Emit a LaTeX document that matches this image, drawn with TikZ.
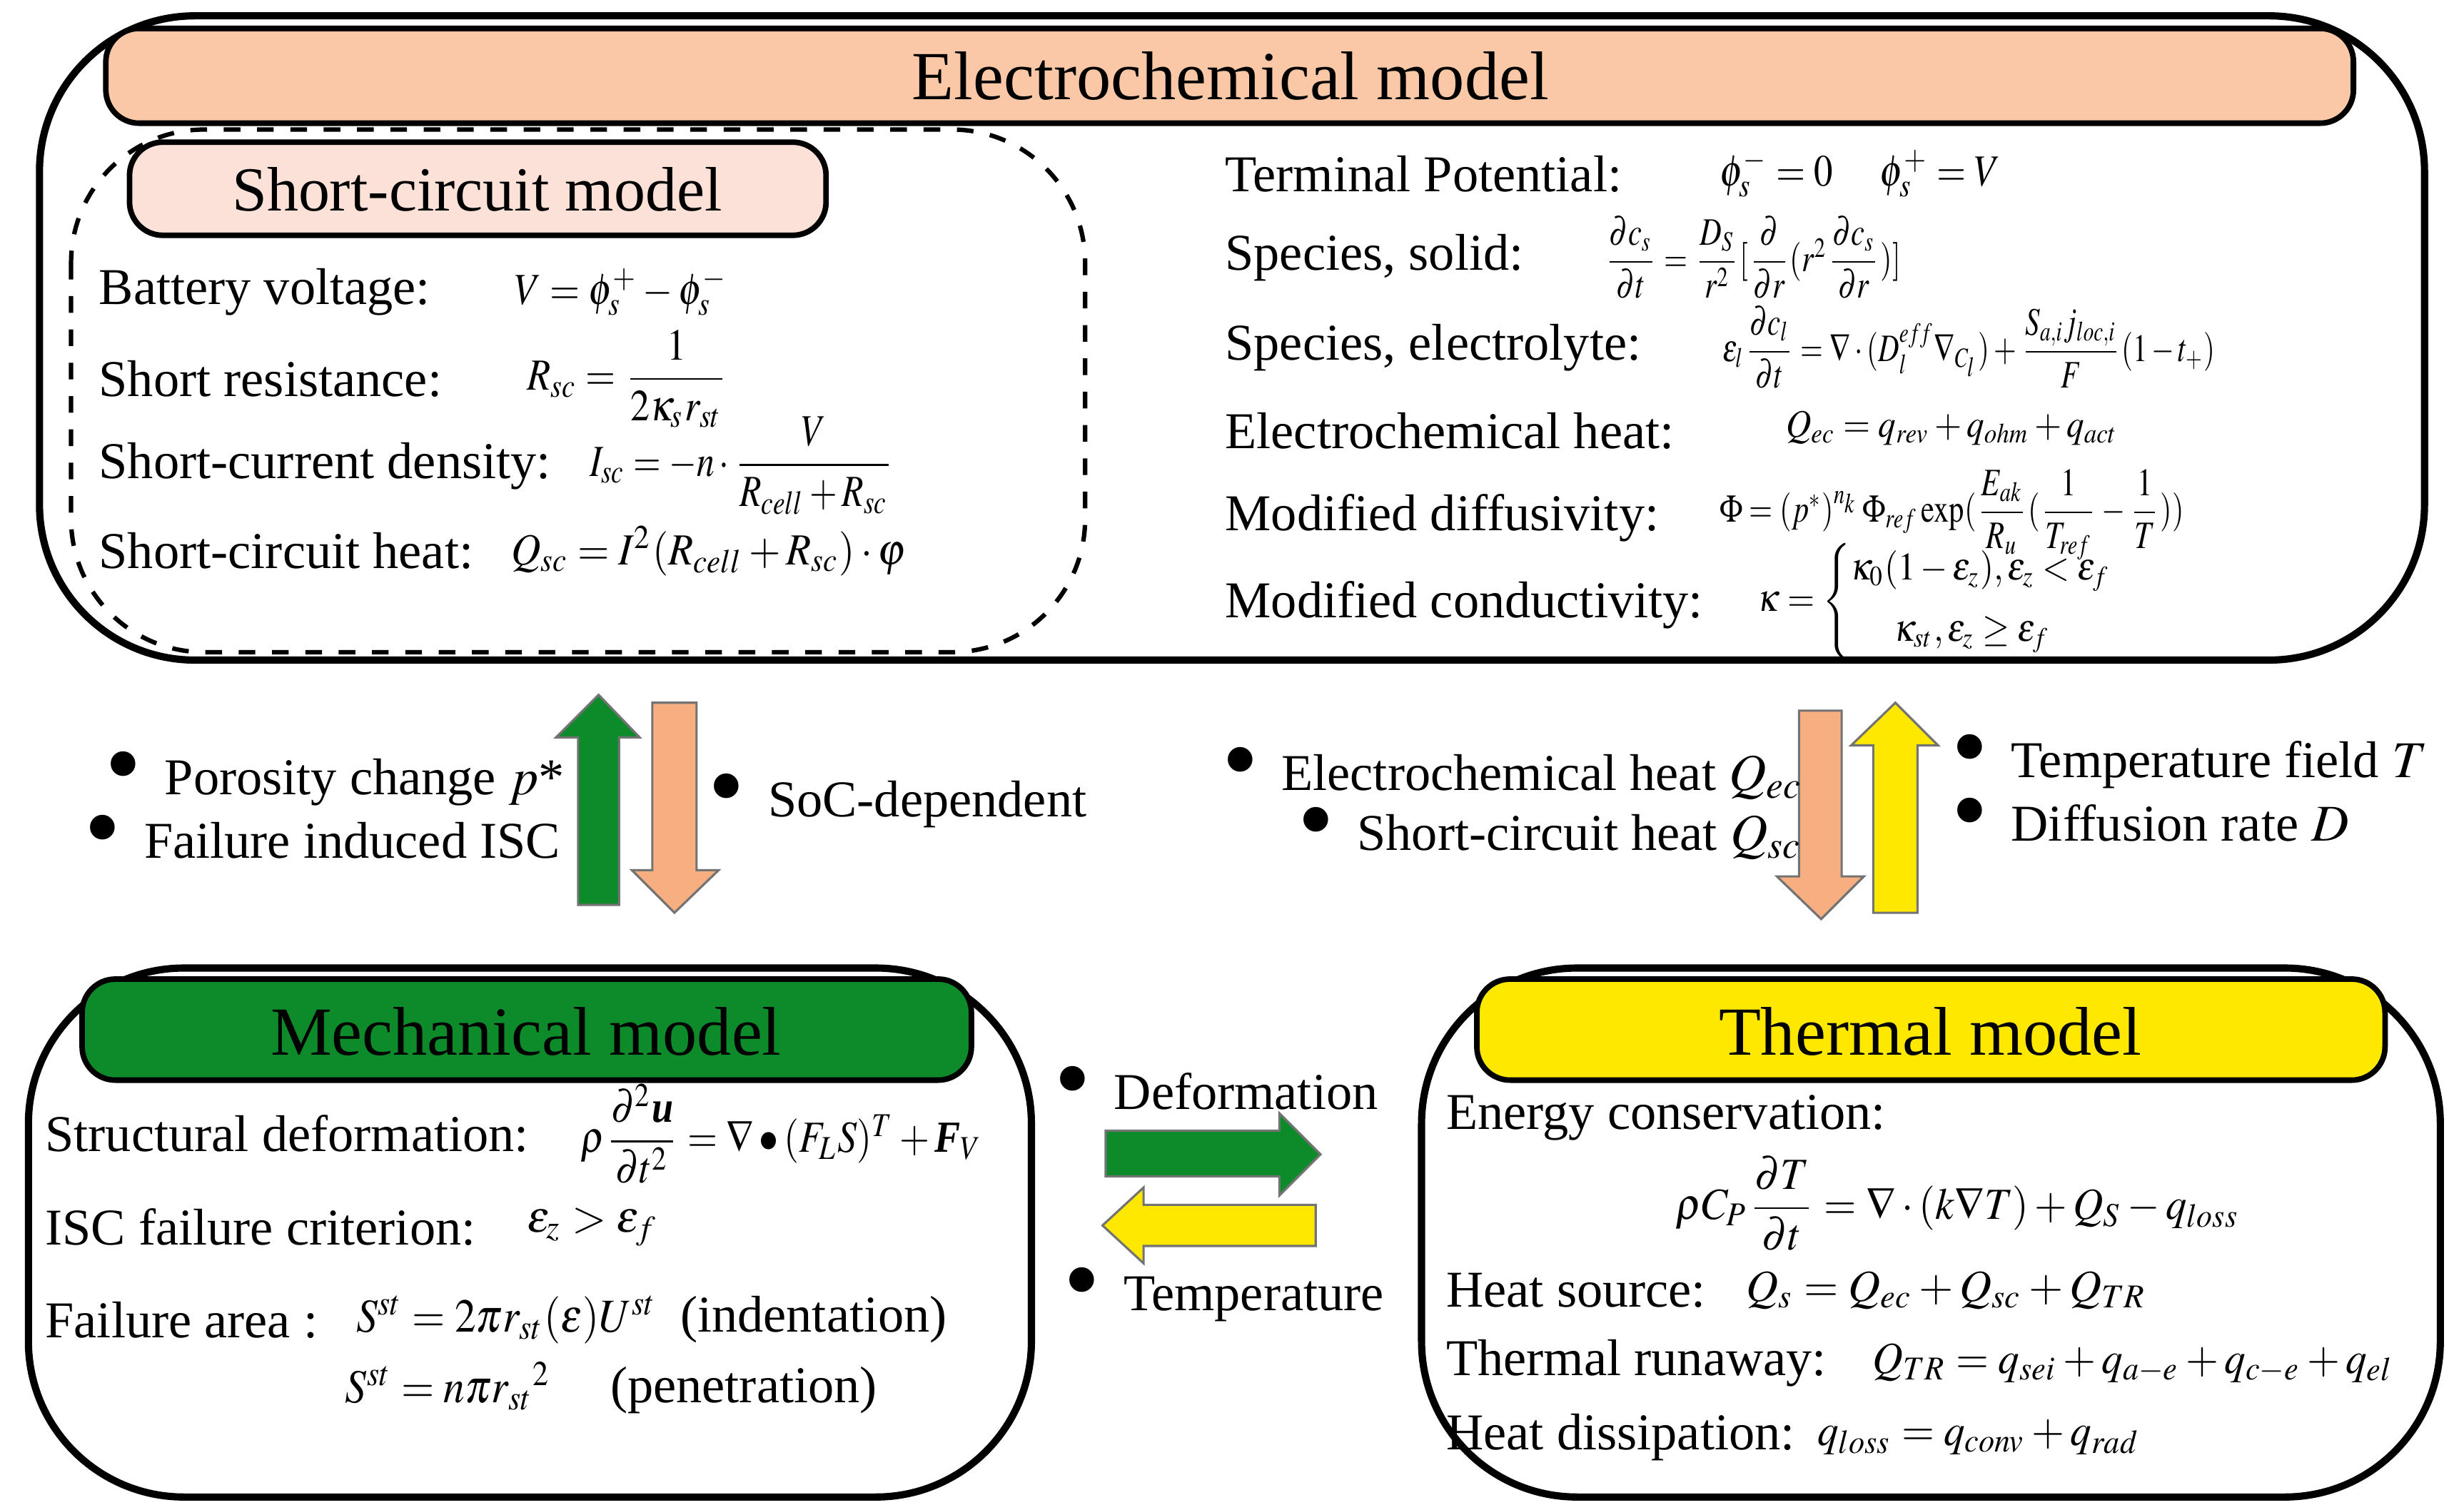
\documentclass[tikz,border=0pt]{standalone}
\usepackage{mathptmx}
\usepackage{amsmath}
\usepackage{fontspec}
\setmainfont{Liberation Serif}
\usepackage{graphicx}
\definecolor{eco}{HTML}{FAC8A6}
\definecolor{scp}{HTML}{FCE1D8}
\definecolor{mgreen}{HTML}{0D8A2A}
\definecolor{tyel}{HTML}{FFE800}
\definecolor{aor}{HTML}{F7AE80}
\newcommand{\bul}{\raisebox{-0.15ex}{\scalebox{2}{\textbullet}}\hspace{0.45em}}
\newcommand{\hs}[2][0.87]{\scalebox{#1}[1]{#2}}
\begin{document}
\begin{tikzpicture}[x=0.01cm,y=-0.01cm,
  outer/.style={draw,line width=1.3pt,rounded corners=28},
  bar/.style={draw,line width=1pt,rounded corners=6},
  ttl/.style={font=\fontsize{12.4}{15}\selectfont},
  lab/.style={anchor=west,inner sep=0,font=\fontsize{9.3}{11}\selectfont},
  eq/.style={anchor=west,inner sep=0,font=\fontsize{8}{9}\selectfont},
  req/.style={anchor=west,inner sep=0,font=\fontsize{7}{8}\selectfont},
  barrow/.style={draw=black!55,line width=0.4pt}]
\useasboundingbox (0,0) rectangle (1560,956);
% Electrochemical
\draw[outer] (25,10) rectangle (1535,418);
\draw[bar,fill=eco] (67,18) rectangle (1490,78);
\node[ttl] (ect) at (779,48) {Electrochemical model};
\draw[dashed,line width=0.8pt,rounded corners=24] (45,82) rectangle (687,413);
\draw[bar,fill=scp] (82,90) rectangle (523,149);
\node[font=\fontsize{11.3}{13}\selectfont] (sct) at (302,120) {Short-circuit model};
\node[lab] (l1) at (62,185) {Battery voltage:};
\node[eq] (e1) at (325,185) {\hs{$V=\phi_s^{+}-\phi_s^{-}$}};
\node[lab] (l2) at (62,240) {Short resistance:};
\node[eq] (e2) at (333,240) {\hs{$R_{sc}=\dfrac{1}{2\kappa_s r_{st}}$}};
\node[lab] (l3) at (62,295) {Short-current density:};
\node[eq] (e3) at (373,295) {\hs[0.8]{$I_{sc}=-n\cdot\dfrac{V}{R_{cell}+R_{sc}}$}};
\node[lab] (l4) at (62,349) {Short-circuit heat:};
\node[eq] (e4) at (323,349) {\hs[0.92]{$Q_{sc}=I^2(R_{cell}+R_{sc})\cdot\varphi$}};
\node[lab] (r1) at (775,110) {Terminal Potential:};
\node[req] (f1) at (1088,110) {\hs[0.85]{\fontsize{8}{9}\selectfont$\phi_s^{-}=0\quad\ \phi_s^{+}=V$}};
\node[lab] (r2) at (775,163) {Species, solid:};
\node[req] (f2) at (1015,163) {\hs[0.78]{$\dfrac{\partial c_s}{\partial t}=\dfrac{D_S}{r^2}[\dfrac{\partial}{\partial r}(r^2\dfrac{\partial c_s}{\partial r})]$}};
\node[req] (f3) at (1090,220) {\hs[0.75]{$\varepsilon_l\dfrac{\partial c_l}{\partial t}=\nabla\cdot(D_l^{eff}\nabla_{C_l})+\dfrac{S_{a,i}j_{loc,i}}{F}(1-t_+)$}};
\node[lab] (r3) at (775,220) {Species, electrolyte:};
\node[lab] (r4) at (775,273) {Electrochemical heat:};
\node[req] (f4) at (1130,271) {\hs[0.9]{$Q_{ec}=q_{rev}+q_{ohm}+q_{act}$}};
\node[lab] (r5) at (775,328) {Modified diffusivity:};
\node[req] (f5) at (1088,326) {\hs[0.78]{$\Phi=\left(p^{*}\right)^{n_k}\Phi_{ref}\exp(\dfrac{E_{ak}}{R_u}(\dfrac{1}{T_{ref}}-\dfrac{1}{T}))$}};
\node[lab] (r6) at (775,383) {Modified conductivity:};
\node[req] (f6) at (1112,381) {\hs[0.9]{$\kappa=\left\{\begin{array}{@{}l@{}}\kappa_0(1-\varepsilon_z),\varepsilon_z<\varepsilon_f\\[3pt] \quad\ \kappa_{st},\varepsilon_z\ge\varepsilon_f\end{array}\right.$}};
% vertical arrows left
\draw[barrow,fill=mgreen] (366,573) -- (366,467) -- (352,467) -- (379,440) -- (405,467) -- (392,467) -- (392,573) -- cycle;
\draw[barrow,fill=aor] (413,445) -- (441,445) -- (441,551) -- (455,551) -- (427,578) -- (400,551) -- (413,551) -- cycle;
% vertical arrows right
\draw[barrow,fill=aor] (1139,450) -- (1166,450) -- (1166,555) -- (1180,555) -- (1153,582) -- (1125,555) -- (1139,555) -- cycle;
\draw[barrow,fill=tyel] (1186,578) -- (1186,472) -- (1172,472) -- (1200,445) -- (1227,472) -- (1214,472) -- (1214,578) -- cycle;
% horizontal arrows
\draw[barrow,fill=mgreen] (700,716) -- (810,716) -- (810,705) -- (836,731) -- (810,757) -- (810,745) -- (700,745) -- cycle;
\draw[barrow,fill=tyel] (833,763) -- (724,763) -- (724,752) -- (698,776) -- (724,800) -- (724,789) -- (833,789) -- cycle;
% bullets
\node[lab] (b1) at (66,493) {\bul Porosity change $p$*};
\node[lab] (b2) at (53,531) {\bul Failure induced ISC};
\node[lab] (b3) at (448,507) {\bul SoC-dependent};
\node[lab] (b4) at (773,490) {\bul Electrochemical heat $Q_{ec}$};
\node[lab] (b5) at (821,528) {\bul Short-circuit heat $Q_{sc}$};
\node[lab] (b6) at (1235,482) {\bul Temperature field $T$};
\node[lab] (b7) at (1235,520) {\bul Diffusion rate $D$};
\node[lab] (b8) at (667,690) {\bul Deformation};
\node[lab] (b9) at (673,820) {\bul Temperature};
% Mechanical
\draw[outer] (18,613) rectangle (653,948);
\draw[bar,fill=mgreen] (52,620) rectangle (615,684);
\node[ttl] (mt) at (333,653) {Mechanical model};
\node[lab] (m1) at (28,718) {Structural deformation:};
\node[eq] (g1) at (367,718) {\hs{$\rho\dfrac{\partial^2\textbf{\textit{u}}}{\partial t^2}=\nabla\bullet(F_LS)^T+\textbf{\textit{F}}_V$}};
\node[lab] (m2) at (28,777) {ISC failure criterion:};
\node[eq] (g2) at (333,777) {$\varepsilon_z>\varepsilon_f$};
\node[lab] (m3) at (28,836) {Failure area :};
\node[lab] (g3) at (225,836) {\fontsize{8.5}{9}\selectfont\hs[0.9]{$S^{st}=2\pi r_{st}(\varepsilon)U^{st}$}\ \ \fontsize{9.3}{11}\selectfont(indentation)};
\node[lab] (g4) at (218,879) {\fontsize{8.5}{9}\selectfont\hs[0.9]{$S^{st}=n\pi {r_{st}}^2$}\quad\ \fontsize{9.3}{11}\selectfont(penetration)};
% Thermal
\draw[outer] (900,613) rectangle (1545,948);
\draw[bar,fill=tyel] (935,620) rectangle (1510,684);
\node[ttl] (tt) at (1222,653) {Thermal model};
\node[lab] (t1) at (915,708) {Energy conservation:};
\node[eq] (h1) at (1060,762) {\hs[0.94]{$\rho C_P\dfrac{\partial T}{\partial t}=\nabla\cdot(k\nabla T)+Q_S-q_{loss}$}};
\node[lab] (t2) at (915,817) {Heat source:};
\node[eq] (h2) at (1105,817) {$Q_s=Q_{ec}+Q_{sc}+Q_{TR}$};
\node[lab] (t3) at (915,863) {Thermal runaway:};
\node[eq] (h3) at (1185,863) {\hs[0.95]{$Q_{TR}=q_{sei}+q_{a-e}+q_{c-e}+q_{el}$}};
\node[lab] (t4) at (915,910) {Heat dissipation:};
\node[eq] (h4) at (1150,910) {\hs[0.95]{$q_{loss}=q_{conv}+q_{rad}$}};
\end{tikzpicture}
\end{document}
